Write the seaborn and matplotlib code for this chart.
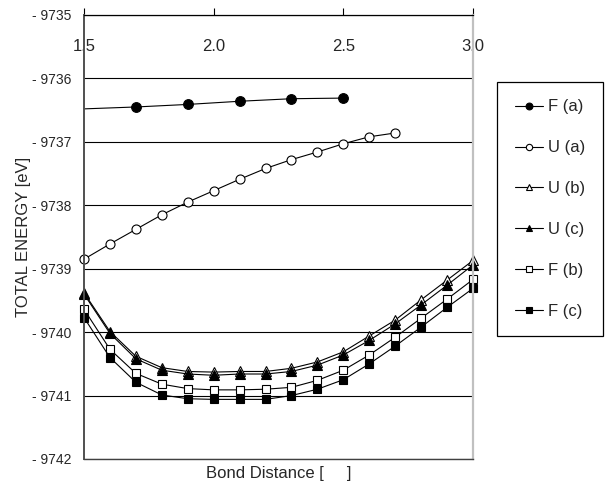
import matplotlib
matplotlib.use("Agg")
import matplotlib.pyplot as plt
import seaborn as sns
import numpy as np

# ---- data ----
x_fa = [1.5, 1.7, 1.9, 2.1, 2.3, 2.5]
y_fa = [-9736.48, -9736.45, -9736.41, -9736.36, -9736.32, -9736.31]

x_ua = [1.5, 1.6, 1.7, 1.8, 1.9, 2.0, 2.1, 2.2, 2.3, 2.4, 2.5, 2.6, 2.7]
y_ua = [-9738.85, -9738.61, -9738.38, -9738.15, -9737.95, -9737.77, -9737.59,
        -9737.42, -9737.28, -9737.16, -9737.03, -9736.92, -9736.86]

x_full = [1.5, 1.6, 1.7, 1.8, 1.9, 2.0, 2.1, 2.2, 2.3, 2.4, 2.5, 2.6, 2.7, 2.8, 2.9, 3.0]
y_ub = [-9739.38, -9739.99, -9740.38, -9740.56, -9740.62, -9740.63, -9740.62, -9740.62,
        -9740.57, -9740.47, -9740.31, -9740.06, -9739.81, -9739.49, -9739.18, -9738.87]
y_uc = [-9739.40, -9740.02, -9740.42, -9740.60, -9740.66, -9740.68, -9740.66, -9740.66,
        -9740.62, -9740.52, -9740.36, -9740.13, -9739.87, -9739.57, -9739.26, -9738.94]
y_fb = [-9739.64, -9740.27, -9740.65, -9740.82, -9740.89, -9740.91, -9740.91, -9740.90,
        -9740.87, -9740.76, -9740.60, -9740.36, -9740.08, -9739.78, -9739.48, -9739.17]
y_fc = [-9739.77, -9740.40, -9740.79, -9740.99, -9741.05, -9741.06, -9741.06, -9741.06,
        -9741.00, -9740.90, -9740.75, -9740.50, -9740.22, -9739.92, -9739.61, -9739.31]

labels = ["F (a)", "U (a)", "U (b)", "U (c)", "F (b)", "F (c)"]
xticks = [1.5, 2.0, 2.5, 3.0]
xtick_labels = ["1.5", "2.0", "2.5", "3.0"]
yticks = [-9735, -9736, -9737, -9738, -9739, -9740, -9741, -9742]
ytick_labels = ["- 9735", "- 9736", "- 9737", "- 9738", "- 9739", "- 9740", "- 9741", "- 9742"]

# ---- style ----
sns.set_style("white")
plt.rcParams["font.family"] = ["Liberation Sans", "DejaVu Sans"]

fig = plt.figure(figsize=(6.06, 4.84), dpi=100)
ax = fig.add_axes([84/606, 1-459/484, (473-84)/606, (459-15)/484])

series = [
    (x_fa, y_fa, "o", "black", 7, list(range(1, 6))),
    (x_ua, y_ua, "o", "white", 6.5, None),
    (x_full, y_ub, "^", "white", 7, None),
    (x_full, y_uc, "^", "black", 7, None),
    (x_full, y_fb, "s", "white", 6, None),
    (x_full, y_fc, "s", "black", 6, None),
]

for (xs, ys, mk, fc, ms, me), lab in zip(series, labels):
    kw = dict(markevery=me) if me is not None else {}
    sns.lineplot(x=xs, y=ys, ax=ax, color="black", linewidth=0.8,
                 marker=mk, markersize=ms, markerfacecolor=fc,
                 markeredgecolor="black", markeredgewidth=0.8,
                 label=lab, clip_on=False, estimator=None, sort=False, **kw)

ax.set_xlim(1.5, 3.0)
ax.set_ylim(-9742, -9735)

ax.set_yticks(yticks)
ax.set_yticklabels(ytick_labels)
ax.set_xticks(xticks)
ax.set_xticklabels(xtick_labels)

ax.xaxis.tick_top()
ax.tick_params(axis="x", which="major", direction="out", length=5, width=0.8,
               color="black", labelsize=12, pad=-33, top=True, bottom=False)
ax.tick_params(axis="y", which="major", length=0, labelsize=10, pad=9)

ax.yaxis.grid(True, color="black", linewidth=0.8)
ax.xaxis.grid(False)

for side, col, lw in [("top", "black", 0.9), ("left", "#505050", 1.4),
                      ("right", "#c0c0c0", 1.6), ("bottom", "#404040", 1.0)]:
    ax.spines[side].set_visible(True)
    ax.spines[side].set_color(col)
    ax.spines[side].set_linewidth(lw)

ax.set_xlabel("Bond Distance [     ]", fontsize=12, labelpad=5)
ax.xaxis.set_label_position("bottom")
ax.set_ylabel("TOTAL ENERGY [eV]", fontsize=12, labelpad=1)

leg = ax.legend(loc="upper left", bbox_to_anchor=(497/606, 1-82/484),
                bbox_transform=fig.transFigure, frameon=True, fancybox=False,
                edgecolor="black", framealpha=1, fontsize=12, labelspacing=1.55,
                handlelength=1.7, handletextpad=0.3, borderpad=1.05,
                borderaxespad=0, markerscale=0.7)
leg.get_frame().set_linewidth(0.9)

fig.savefig("out.png", dpi=100, facecolor="white")
